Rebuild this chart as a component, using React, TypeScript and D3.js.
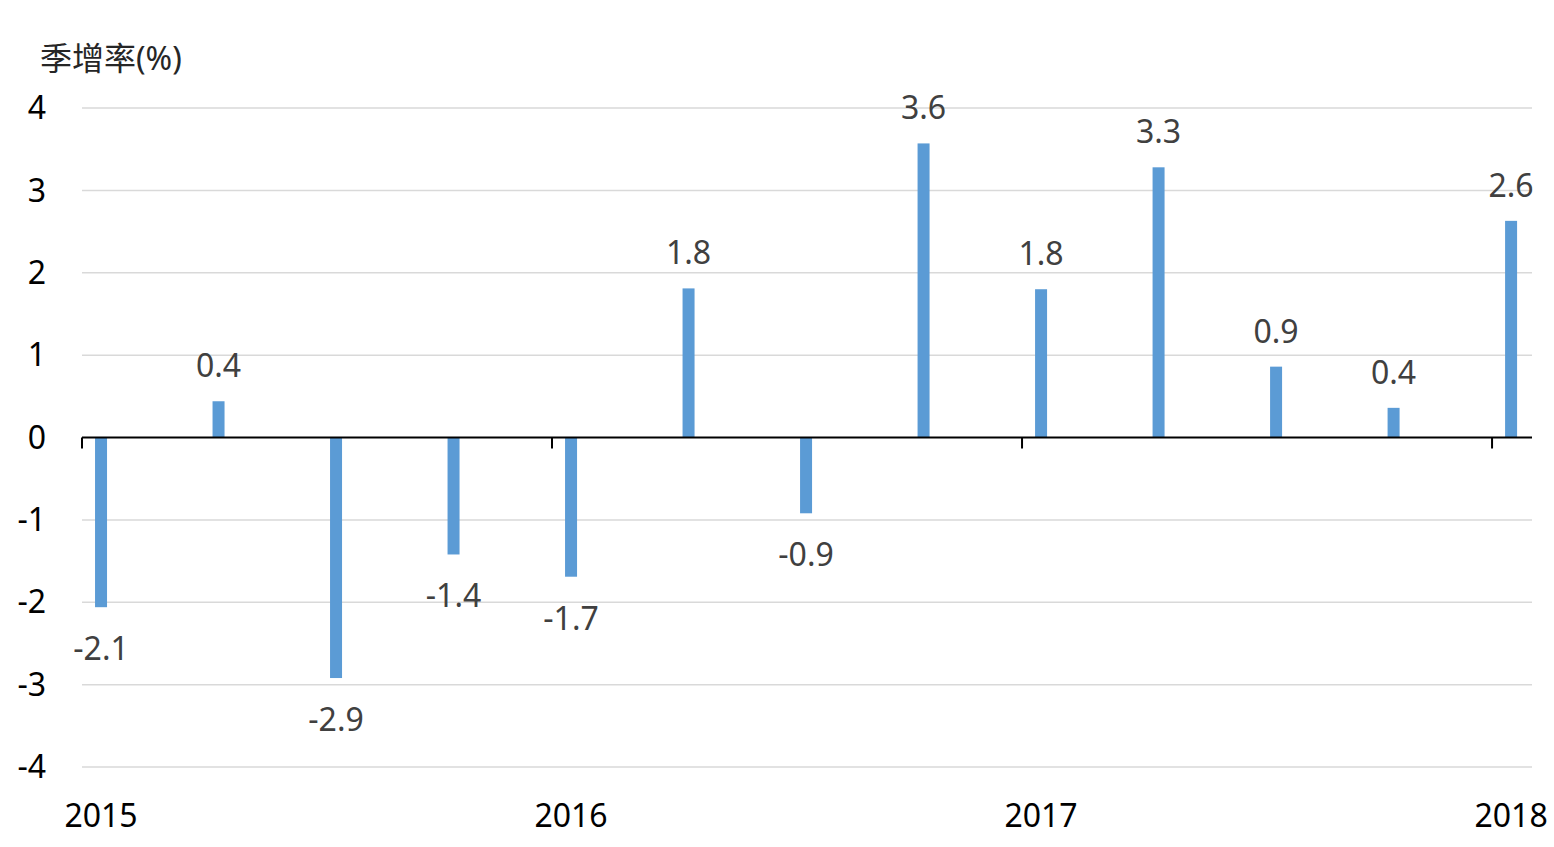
import React from "react";
import * as d3 from "d3";

const quarters = ["2015Q1","2015Q2","2015Q3","2015Q4","2016Q1","2016Q2","2016Q3","2016Q4","2017Q1","2017Q2","2017Q3","2017Q4","2018Q1"];
const values = [-2.06, 0.44, -2.92, -1.42, -1.69, 1.81, -0.92, 3.57, 1.8, 3.28, 0.86, 0.36, 2.63];
const labels = ["-2.1","0.4","-2.9","-1.4","-1.7","1.8","-0.9","3.6","1.8","3.3","0.9","0.4","2.6"];
const yTicks = [-4, -3, -2, -1, 0, 1, 2, 3, 4];
const years = ["2015", "2016", "2017", "2018"];
const yTitle = "季增率(%)";

const W = 1554, H = 847;
const FONT = "'Noto Sans', 'Noto Sans CJK TC', sans-serif";

export default function App() {
  const x = d3.scaleLinear().domain([0, 12.34]).range([82, 1532]);
  const y = d3.scaleLinear().domain([-4, 4]).range([767, 108]);
  const barOffset = 0.162;
  const bw = 12;
  return (
    <svg width={W} height={H} style={{ position: "absolute", left: 0, top: 0, background: "#fff" }}>
      <text x={40} y={70} fontFamily={FONT} fontSize={32} fill="#262626">{yTitle}</text>
      {yTicks.map((t) => (
        <g key={t}>
          {t !== 0 && (
            <line x1={x(0)} x2={x(12.34)} y1={y(t)} y2={y(t)} stroke="#d9d9d9" strokeWidth={1.5} />
          )}
          <text x={46} y={y(t)} dy="0.35em" textAnchor="end" fontFamily={FONT} fontSize={32} fill="#000">{t}</text>
        </g>
      ))}
      {values.map((v, i) => {
        const cx = x(i + barOffset);
        const y0 = y(0), y1 = y(v);
        return (
          <g key={quarters[i]}>
            <rect x={cx - bw / 2} width={bw} y={Math.min(y0, y1)} height={Math.abs(y1 - y0)} fill="#5b9bd5" />
            <text x={cx} y={v >= 0 ? y1 - 24 : y1 + 53} textAnchor="middle" fontFamily={FONT} fontSize={32} fill="#404040">{labels[i]}</text>
          </g>
        );
      })}
      <line x1={x(0)} x2={x(12.34)} y1={y(0)} y2={y(0)} stroke="#000" strokeWidth={2} />
      {years.map((yr, k) => (
        <g key={yr}>
          <line x1={x(4 * k)} x2={x(4 * k)} y1={y(0)} y2={y(0) + 11} stroke="#000" strokeWidth={2} />
          <text x={x(4 * k + barOffset)} y={827} textAnchor="middle" fontFamily={FONT} fontSize={32} fill="#000">{yr}</text>
        </g>
      ))}
    </svg>
  );
}
